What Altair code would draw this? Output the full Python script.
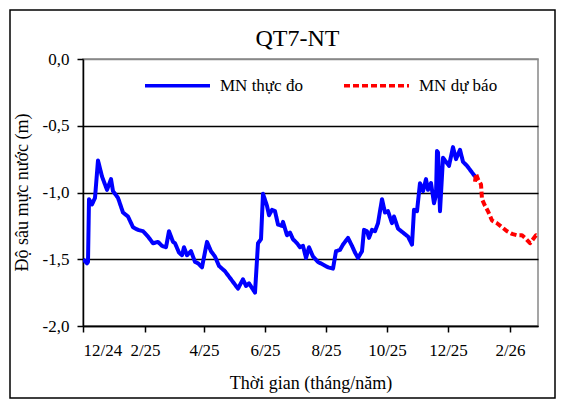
import altair as alt
import pandas as pd

obs_dates = [
    "2024-12-01", "2024-12-05", "2024-12-06", "2024-12-07", "2024-12-10", "2024-12-13",
    "2024-12-16", "2024-12-20", "2024-12-25", "2024-12-29", "2024-12-31", "2025-01-05",
    "2025-01-10", "2025-01-15", "2025-01-20", "2025-01-25", "2025-01-30", "2025-02-04",
    "2025-02-09", "2025-02-14", "2025-02-18", "2025-02-22", "2025-02-25", "2025-03-01",
    "2025-03-03", "2025-03-07", "2025-03-10", "2025-03-12", "2025-03-15", "2025-03-19",
    "2025-03-23", "2025-03-26", "2025-03-30", "2025-04-04", "2025-04-08", "2025-04-12",
    "2025-04-16", "2025-04-22", "2025-04-27", "2025-05-02", "2025-05-05", "2025-05-10",
    "2025-05-13", "2025-05-16", "2025-05-22", "2025-05-25", "2025-05-28", "2025-05-30",
    "2025-06-03", "2025-06-05", "2025-06-08", "2025-06-11", "2025-06-14", "2025-06-18",
    "2025-06-19", "2025-06-23", "2025-06-26", "2025-06-29", "2025-07-03", "2025-07-06",
    "2025-07-09", "2025-07-12", "2025-07-15", "2025-07-19", "2025-07-24", "2025-07-29",
    "2025-08-03", "2025-08-08", "2025-08-11", "2025-08-15", "2025-08-18", "2025-08-23",
    "2025-08-27", "2025-08-30", "2025-09-02", "2025-09-06", "2025-09-08", "2025-09-11",
    "2025-09-13", "2025-09-16", "2025-09-19", "2025-09-22", "2025-09-26", "2025-09-29",
    "2025-10-02", "2025-10-06", "2025-10-08", "2025-10-12", "2025-10-17", "2025-10-22",
    "2025-10-26", "2025-10-28", "2025-10-31", "2025-11-03", "2025-11-06", "2025-11-09",
    "2025-11-11", "2025-11-14", "2025-11-17", "2025-11-19", "2025-11-20", "2025-11-21",
    "2025-11-23", "2025-11-26", "2025-11-29", "2025-12-02", "2025-12-06", "2025-12-09",
    "2025-12-13", "2025-12-16", "2025-12-20", "2025-12-23", "2025-12-26", "2025-12-28",
]
obs_values = [
    -1.50, -1.53, -1.52, -1.05, -1.09, -1.04,
    -0.76, -0.88, -0.98, -0.90, -0.99, -1.04,
    -1.15, -1.18, -1.26, -1.28, -1.29, -1.33,
    -1.38, -1.37, -1.40, -1.41, -1.29, -1.37,
    -1.38, -1.45, -1.47, -1.41, -1.47, -1.44,
    -1.52, -1.53, -1.56, -1.37, -1.44, -1.48,
    -1.55, -1.59, -1.64, -1.69, -1.72, -1.65,
    -1.70, -1.68, -1.75, -1.38, -1.35, -1.01,
    -1.10, -1.17, -1.13, -1.14, -1.24, -1.25,
    -1.22, -1.32, -1.30, -1.35, -1.38, -1.41,
    -1.40, -1.49, -1.41, -1.48, -1.52, -1.54,
    -1.56, -1.57, -1.44, -1.43, -1.39, -1.34,
    -1.40, -1.45, -1.49, -1.44, -1.28, -1.29,
    -1.34, -1.28, -1.29, -1.23, -1.05, -1.15,
    -1.14, -1.23, -1.18, -1.27, -1.30, -1.33,
    -1.39, -1.13, -1.14, -0.93, -0.99, -0.90,
    -0.98, -0.93, -1.08, -1.02, -0.69, -0.70,
    -1.14, -0.74, -0.77, -0.80, -0.66, -0.75,
    -0.68, -0.77, -0.80, -0.83, -0.86, -0.88,
]

fc_dates = [
    "2025-12-28", "2025-12-29", "2025-12-31", "2026-01-03", "2026-01-04", "2026-01-07",
    "2026-01-10", "2026-01-14", "2026-01-19", "2026-01-24", "2026-01-29", "2026-02-03",
    "2026-02-08", "2026-02-13", "2026-02-16", "2026-02-21", "2026-02-24", "2026-02-27",
    "2026-03-01",
]
fc_values = [
    -0.92, -0.86, -0.90, -0.94, -1.05, -1.10,
    -1.14, -1.21, -1.23, -1.26, -1.29, -1.31,
    -1.32, -1.32, -1.34, -1.38, -1.35, -1.32,
    -1.33,
]

series_names = ["MN thực đo", "MN dự báo"]
x_tick_dates = ["2024-12-01", "2025-02-01", "2025-04-01", "2025-06-01",
                "2025-08-01", "2025-10-01", "2025-12-01", "2026-02-01"]
y_ticks = [-2.0, -1.5, -1.0, -0.5, 0.0]

df = pd.concat([
    pd.DataFrame({"date": obs_dates, "value": obs_values, "series": series_names[0], "order": range(len(obs_dates))}),
    pd.DataFrame({"date": fc_dates, "value": fc_values, "series": series_names[1], "order": range(len(fc_dates))}),
], ignore_index=True)

FONT = "Liberation Serif"

def utc(s):
    y, m, d = (int(p) for p in s.split("-"))
    return alt.DateTime(year=y, month=m, date=d, utc=True)

legend = alt.Legend(
    title=None, orient="none", legendX=60, legendY=-8, direction="horizontal",
    symbolType="stroke", symbolSize=4225, symbolStrokeWidth=3.5,
    labelFont=FONT, labelFontSize=17, labelColor="black", labelOffset=8,
    columnPadding=34, labelLimit=200,
)

lines = alt.Chart(df).mark_line(strokeWidth=4, strokeJoin="round", clip=True).encode(
    x=alt.X("date:T",
            scale=alt.Scale(type="utc", domain=[utc("2024-12-01"), utc("2026-03-01")]),
            axis=alt.Axis(values=[utc(s) for s in x_tick_dates],
                          labelExpr="utcFormat(datum.value, '%-m/%y')",
                          title="Thời gian (tháng/năm)", grid=False,
                          tickSize=6, labelPadding=10,
                          titleY=57, titleBaseline="middle")),
    y=alt.Y("value:Q",
            scale=alt.Scale(domain=[-2, 0], nice=False, zero=False),
            axis=alt.Axis(values=y_ticks,
                          labelExpr="(datum.value < 0 ? '-' : '') + replace(format(abs(datum.value), '.1f'), '.', ',')",
                          title="Độ sâu mực nước (m)",
                          gridColor=alt.condition("datum.value == 0", alt.value("#888888"), alt.value("black")),
                          gridWidth=1.5, tickSize=6, labelPadding=8,
                          titleX=-61, titleY=133, titleBaseline="middle", titleAngle=-90)),
    color=alt.Color("series:N", scale=alt.Scale(domain=series_names, range=["#0000FF", "#FF0000"]), legend=legend),
    strokeDash=alt.StrokeDash("series:N", scale=alt.Scale(domain=series_names, range=[[1, 0], [6, 3]]), legend=legend),
    order="order:Q",
)

frame = alt.Chart(alt.Data(values=[{"k": 1}])).mark_rect(
    fillOpacity=0, stroke="black", strokeWidth=1.5
).encode(
    x=alt.value(-73), x2=alt.value(472), y=alt.value(-49), y2=alt.value(339)
)

chart = alt.layer(frame, lines).properties(
    width=455, height=267,
    padding={"left": 75, "top": 51, "right": 18, "bottom": 74},
    autosize=alt.AutoSizeParams(type="none"),
    title=alt.TitleParams("QT7-NT", font=FONT, fontSize=24, fontWeight="normal",
                          color="black", offset=16, baseline="alphabetic", dx=-13,
                          dy=77, frame="group"),
).configure_axis(
    labelFont=FONT, labelFontSize=17, labelColor="black",
    titleFont=FONT, titleFontSize=18, titleFontWeight="normal", titleColor="black",
    domainColor="black", domainWidth=1.5, tickColor="black", tickWidth=1.5,
).configure_view(
    stroke="#888888", strokeWidth=1.5
)

chart.save("out.html", embed_options={"renderer": "svg", "actions": False})
